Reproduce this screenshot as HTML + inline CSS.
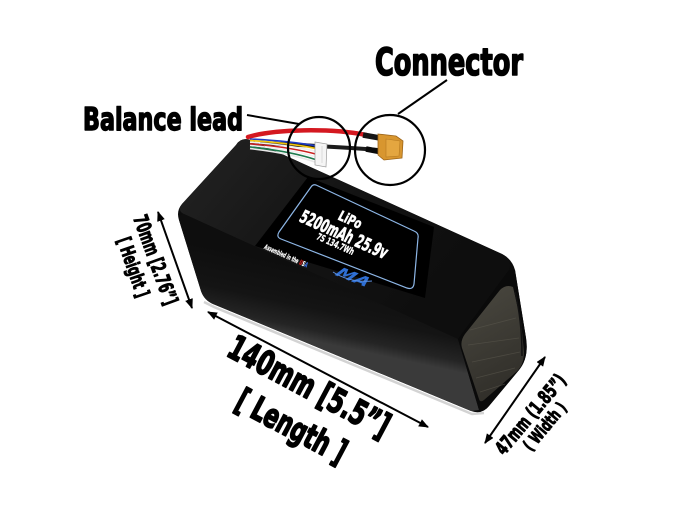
<!DOCTYPE html>
<html>
<head>
<meta charset="utf-8">
<style>
  html, body { margin: 0; padding: 0; background: #ffffff; }
  body { width: 686px; height: 511px; overflow: hidden; }
  svg { display: block; }
  .imp { font-family: "DejaVu Sans Condensed", "DejaVu Sans", "Liberation Sans", sans-serif; font-weight: bold; fill: #000; stroke: #000; stroke-linejoin: round; }
  .lbl { font-family: "DejaVu Sans Condensed", "DejaVu Sans", "Liberation Sans", sans-serif; font-weight: bold; fill: #fff; stroke: #fff; stroke-linejoin: round; }
</style>
</head>
<body>
<svg width="686" height="511" viewBox="0 0 686 511" xmlns="http://www.w3.org/2000/svg">
  <defs>
    <linearGradient id="gTop" gradientUnits="userSpaceOnUse" x1="240" y1="140" x2="430" y2="300">
      <stop offset="0" stop-color="#1f1f1f"/>
      <stop offset="0.5" stop-color="#131313"/>
      <stop offset="1" stop-color="#0e0e0e"/>
    </linearGradient>
    <linearGradient id="gFront" gradientUnits="userSpaceOnUse" x1="305" y1="266" x2="290" y2="336">
      <stop offset="0" stop-color="#0e0e0e"/>
      <stop offset="0.55" stop-color="#141414"/>
      <stop offset="0.85" stop-color="#242424"/>
      <stop offset="1" stop-color="#3a3a3a"/>
    </linearGradient>
    <linearGradient id="gEnd" gradientUnits="userSpaceOnUse" x1="470" y1="300" x2="520" y2="385">
      <stop offset="0" stop-color="#47453d"/>
      <stop offset="1" stop-color="#302e29"/>
    </linearGradient>
    <marker id="ah" viewBox="0 0 10 8" refX="9" refY="4" markerWidth="10" markerHeight="8" markerUnits="userSpaceOnUse" orient="auto-start-reverse">
      <path d="M0,0 L10,4 L0,8 z" fill="#000"/>
    </marker>
  </defs>

  <!-- bottom soft highlight -->
  <path d="M 204 302 L 214 307 L 472 414 L 484 413" fill="none" stroke="#c8c8c8" stroke-width="2.5" opacity="0.8"/>

  <!-- battery silhouette -->
  <path d="M 236 145 Q 241 137 251 140 L 502 254 Q 512 259 515 270 L 526 338 Q 529 358 519 370 L 489 406 Q 482 415 471 411 L 213 304 Q 204 300 201 291 L 179 220 Q 176 211 182 204 Z" fill="#0c0c0c"/>
  <!-- top face -->
  <path d="M 236 145 Q 241 137 251 140 L 502 254 Q 512 259 509 270 L 458 339 L 184 214 Q 177 211 182 204 Z" fill="url(#gTop)"/>
  <!-- front face -->
  <path d="M 184 214 L 458 339 L 479 410 L 471 411 L 213 304 Q 204 300 201 291 L 179 220 Q 178 215 184 214 Z" fill="url(#gFront)"/>
  <!-- end face -->
  <path d="M 509 270 L 515 270 L 526 338 Q 529 358 519 370 L 489 406 Q 484 412 479 410 L 458 339 Z" fill="#0a0a0a"/>
  <path d="M 500 290 Q 506 284 513 287 L 521 322 L 524 352 Q 524 366 515 373 L 484 400 Q 480 403 479 399 L 462 348 Q 460 341 465 334 Z" fill="url(#gEnd)"/>
  <g stroke="#5a574d" stroke-width="0.8" opacity="0.6" fill="none">
    <path d="M 470 330 L 516 318"/>
    <path d="M 468 345 L 519 338"/>
    <path d="M 472 362 L 520 352"/>
    <path d="M 476 378 L 515 368"/>
    <path d="M 480 392 L 505 384"/>
  </g>
  <path d="M 515 292 Q 522 320 522 356" fill="none" stroke="#111" stroke-width="1.5"/>

  <!-- label -->
  <path d="M 308 177 L 434 227 L 425 298 L 255 246 Z" fill="#000"/>
  <path d="M 316 185 L 414 231 Q 419 233 418 238 L 414 284 Q 413 290 407 288 L 281 239 Q 276 237 279 232 L 311 187 Q 313 184 316 185 Z" fill="none" stroke="#8db6e6" stroke-width="1.2"/>
  <text class="lbl" transform="translate(348,224) rotate(24) skewX(-4)" text-anchor="middle" font-size="14" stroke-width="0.5" textLength="24" lengthAdjust="spacingAndGlyphs">LiPo</text>
  <text class="lbl" transform="translate(341,240) rotate(24) skewX(-4)" text-anchor="middle" font-size="18" stroke-width="0.7" textLength="94" lengthAdjust="spacingAndGlyphs">5200mAh 25.9v</text>
  <text class="lbl" transform="translate(334,247) rotate(24) skewX(-4)" text-anchor="middle" font-size="9.5" stroke-width="0.3" textLength="40" lengthAdjust="spacingAndGlyphs">7S 134.7Wh</text>
  <text class="lbl" transform="translate(285,258) rotate(24) skewX(-4)" text-anchor="middle" font-size="7" stroke-width="0.2" textLength="47" lengthAdjust="spacingAndGlyphs">Assembled in the <tspan fill="#e02020" stroke="#e02020">U</tspan><tspan>S</tspan><tspan fill="#3a6ee0" stroke="#3a6ee0">A</tspan></text>
  <text transform="translate(350,281) rotate(21) skewX(-20)" text-anchor="middle" font-family="'DejaVu Sans','Liberation Sans',sans-serif" font-weight="bold" font-style="italic" font-size="14" fill="#2f6fd3" textLength="34" lengthAdjust="spacingAndGlyphs">MA</text>
  <path d="M 333 272 Q 350 283 372 281" fill="none" stroke="#5b8fe0" stroke-width="1"/>

  <!-- wires -->
  <path d="M 248 137 C 275 129, 330 128, 366 135" fill="none" stroke="#d41820" stroke-width="4.5" stroke-linecap="round"/>
  <path d="M 262 143 C 300 145, 340 147, 378 150" fill="none" stroke="#1c1c1c" stroke-width="4" stroke-linecap="round"/>
  <path d="M 363 135 L 380 138" stroke="#151515" stroke-width="5.5"/>
  <path d="M 366 149 L 382 152" stroke="#0a0a0a" stroke-width="5.5"/>
  <g fill="none" stroke-width="1.6">
    <path d="M 250 139 Q 290 141 317 146" stroke="#1f3cc4"/>
    <path d="M 250 140.6 Q 290 143 317 148.8" stroke="#f2c40c"/>
    <path d="M 250 142.2 Q 290 145 317 151.6" stroke="#f0f0f0"/>
    <path d="M 250 143.8 Q 290 147 317 154.4" stroke="#cc2020"/>
    <path d="M 250 145.4 Q 290 149 317 157.2" stroke="#f0f0f0"/>
    <path d="M 250 147 Q 290 151 317 160" stroke="#1e7a4e"/>
    <path d="M 250 148.6 Q 290 153 317 162.8" stroke="#e8e8e8"/>
  </g>
  <path d="M 315 142 L 327 144 L 326 167 L 315 165 Z" fill="#f5f5f5" stroke="#9a9a9a" stroke-width="0.7"/>
  <path d="M 322 146 L 322 163" stroke="#c8c8c8" stroke-width="0.6"/>
  <!-- XT connector -->
  <path d="M 378 134 L 396 136 L 403 141 L 402 158 L 384 160 L 378 155 Z" fill="#d8962f" stroke="#9c6418" stroke-width="0.8"/>
  <path d="M 386 139 L 400 141 L 399 156 L 386 157 Z" fill="#e4a640" stroke="#b57a22" stroke-width="0.6"/>

  <!-- callout circles and leaders -->
  <circle cx="319" cy="148" r="31" fill="none" stroke="#000" stroke-width="2.2"/>
  <circle cx="390" cy="150" r="35" fill="none" stroke="#000" stroke-width="2.2"/>
  <line x1="247" y1="115" x2="299" y2="124" stroke="#000" stroke-width="2"/>
  <line x1="447" y1="80" x2="398" y2="114" stroke="#000" stroke-width="2"/>

  <text class="imp" x="375" y="75" font-size="37" stroke-width="1.6" textLength="148" lengthAdjust="spacingAndGlyphs">Connector</text>
  <text class="imp" x="83" y="130" font-size="31" stroke-width="1.4" textLength="160" lengthAdjust="spacingAndGlyphs">Balance lead</text>

  <!-- dimension arrows -->
  <line x1="158" y1="212" x2="192" y2="308" stroke="#000" stroke-width="2" marker-start="url(#ah)" marker-end="url(#ah)"/>
  <line x1="208" y1="312" x2="428" y2="427" stroke="#000" stroke-width="2" marker-start="url(#ah)" marker-end="url(#ah)"/>
  <line x1="545" y1="357" x2="485" y2="443" stroke="#000" stroke-width="2" marker-start="url(#ah)" marker-end="url(#ah)"/>

  <!-- height labels -->
  <text class="imp" transform="translate(133,218) rotate(70)" font-size="20" stroke-width="1" textLength="94" lengthAdjust="spacingAndGlyphs">70mm [2.76”]</text>
  <text class="imp" transform="translate(117,240) rotate(71)" font-size="19" stroke-width="1" textLength="62" lengthAdjust="spacingAndGlyphs">[ Height ]</text>

  <!-- length labels -->
  <text class="imp" transform="translate(225,355) rotate(28)" font-size="34" stroke-width="1.6" textLength="178" lengthAdjust="spacingAndGlyphs">140mm [5.5”]</text>
  <text class="imp" transform="translate(233,408) rotate(28)" font-size="33" stroke-width="1.6" textLength="120" lengthAdjust="spacingAndGlyphs">[ Length ]</text>

  <!-- width labels -->
  <text class="imp" transform="translate(504,456) rotate(-50)" font-size="19" stroke-width="1" textLength="98" lengthAdjust="spacingAndGlyphs">47mm (1.85”)</text>
  <text class="imp" transform="translate(531,452) rotate(-50)" font-size="17" stroke-width="0.9" textLength="57" lengthAdjust="spacingAndGlyphs">( Width )</text>
</svg>
</body>
</html>
